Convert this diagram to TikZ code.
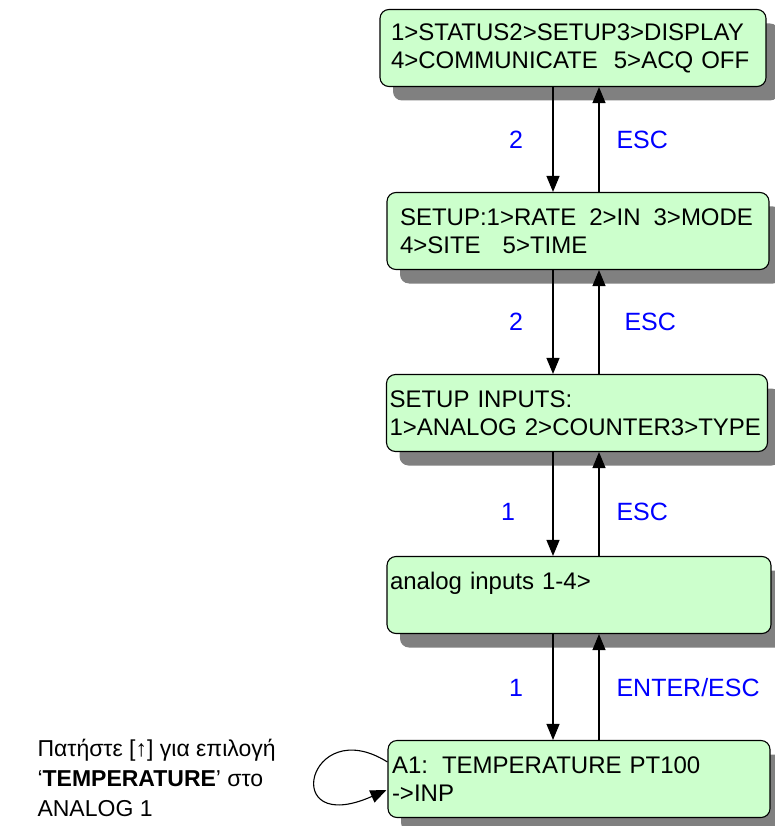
\documentclass[tikz,border=0pt]{standalone}
\usepackage{fontspec}
\setmainfont{Liberation Sans}
\usetikzlibrary{calc,shadows,arrows.meta}
\definecolor{lcdgreen}{RGB}{204,255,204}
\tikzset{>={Stealth[length=16pt,width=13pt,inset=0pt]}}
\tikzset{
  lcd/.style={draw, line width=1.1pt, rounded corners=9pt, fill=lcdgreen,
    minimum height=77pt, align=left, anchor=center,
    font=\fontsize{24}{28}\selectfont,
    drop shadow={shadow xshift=13pt, shadow yshift=-14pt, fill=black!50, opacity=1}},
  key/.style={text=blue, font=\fontsize{25}{28}\selectfont},
  link/.style={->, line width=1.1pt},
}

\begin{document}
\begin{tikzpicture}[x=1pt,y=-1pt]
          \useasboundingbox (0,0) rectangle (774,826);
          % menu screens
          \node[lcd, minimum width=386pt, text width=364pt, inner xsep=11pt] (main) at (573,48)
            {\mbox{1>STATUS2>SETUP3>DISPLAY}\\\mbox{4>COMMUNICATE\hspace{16pt}5>ACQ OFF}};
          \node[lcd, minimum width=382pt, text width=356pt, inner xsep=13pt] (setup) at (578,231)
            {\mbox{SETUP:1>RATE\hspace{13pt}2>IN\hspace{13pt}3>MODE}\\\mbox{4>SITE\hspace{22pt}5>TIME}};
          \node[lcd, minimum width=381pt, text width=375pt, inner xsep=3pt] (inputs) at (577,413)
            {\mbox{SETUP INPUTS:}\\\mbox{1>ANALOG 2>COUNTER3>TYPE}};
          \node[lcd, minimum width=384pt, text width=378pt, inner xsep=3pt] (analog) at (579,595)
            {\mbox{analog inputs 1-4>}\\~};
          \node[lcd, minimum width=382pt, text width=374pt, inner xsep=4pt] (a1) at (579,779)
            {\mbox{A1:\hspace{14pt}TEMPERATURE PT100}\\\mbox{->INP}};
          \coordinate (dnx) at (553,0);
          \coordinate (upx) at (599,0);
          % forward / back keys
          \begin{scope}[link]
            \draw (main.south -| dnx) -- (setup.north -| dnx);
            \draw (setup.north -| upx) -- (main.south -| upx);
            \draw (setup.south -| dnx) -- (inputs.north -| dnx);
            \draw (inputs.north -| upx) -- (setup.south -| upx);
            \draw (inputs.south -| dnx) -- (analog.north -| dnx);
            \draw (analog.north -| upx) -- (inputs.south -| upx);
            \draw (analog.south -| dnx) -- (a1.north -| dnx);
            \draw (a1.north -| upx) -- (analog.south -| upx);
          \end{scope}
          \node[key] (k1) at (516,140) {2};
          \node[key, anchor=west] (e1) at (613,140) {ESC};
          \node[key] (k2) at (516,322) {2};
          \node[key, anchor=west] (e2) at (621,322) {ESC};
          \node[key] (k3) at (508,512) {1};
          \node[key, anchor=west] (e3) at (613,512) {ESC};
          \node[key] (k4) at (516,688) {1};
          \node[key, anchor=west] (e4) at (613,688) {ENTER/ESC};
          % loop on the last screen
          \coordinate (lpin) at ($(a1.west)+(0,-17)$);
          \coordinate (lpout) at ($(a1.west)+(-1,11)$);
          \draw[link] (lpin) .. controls (308,712) and (278,838) .. (lpout);
          \node[anchor=west, align=left, font=\fontsize{23}{30}\selectfont] (hint) at (34,778)
            {Πατήστε [↑] για επιλογή\\‘\textbf{TEMPERATURE}’ στο\\ANALOG 1};
\end{tikzpicture}
\end{document}
